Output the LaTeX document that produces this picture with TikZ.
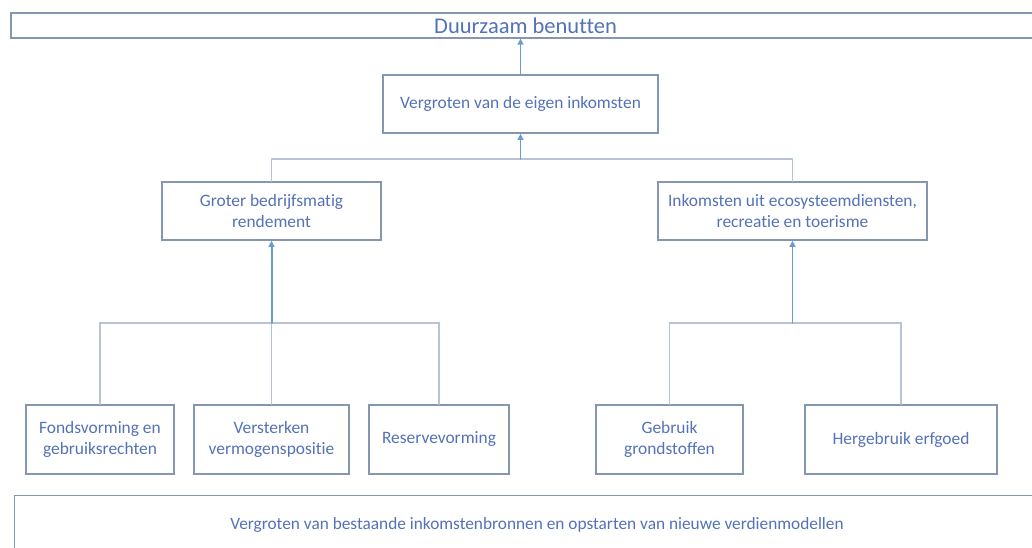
\documentclass[tikz,border=0pt]{standalone}
\usepackage{fontspec}
\setmainfont[Ligatures = NoCommon]{Carlito}
\usetikzlibrary{arrows.meta}

\definecolor{labelblue}{RGB}{84,114,184}
\definecolor{frameblue}{RGB}{132,150,176}
\definecolor{linkgray}{RGB}{184,196,214}
\definecolor{arrowblue}{RGB}{106,156,212}

\begin{document}
\begin{tikzpicture}[%
        x = 1pt,
        y = -1pt,
        line cap = round,
        > = {Triangle[width = 6pt, length = 6pt]},
        box/.style = {
            draw = frameblue,
            line width = 1.6pt,
            fill = white,
            text = labelblue,
            align = center,
            inner sep = 0pt,
            font = \fontsize{17.4}{21.5}\selectfont
        },
        widebox/.style = {
            box,
            line width = 1.2pt,
            minimum width = 1029pt
        },
        link/.style = {
            draw = linkgray,
            line width = 1.4pt
        },
        uparrow/.style = {
            draw = arrowblue,
            line width = 1.4pt,
            ->
        }
    ]

        \useasboundingbox (0, 0) rectangle (1032, 548);

        % Top and bottom bands, running off the right edge.
        \node[widebox, minimum height = 25pt, font = \fontsize{22.5}{24}\selectfont]
            (goal) at (525.5, 25.5) {Duurzaam benutten};
        \node[widebox, minimum height = 70pt, anchor = north west]
            (base) at (14, 495) {};
        \node[text = labelblue, font = \fontsize{17.3}{20}\selectfont]
            (basetext) at (537, 525) {Vergroten van bestaande inkomstenbronnen en opstarten van nieuwe verdienmodellen};

        % Middle levels.
        \node[box, minimum width = 275pt, minimum height = 58pt]
            (eigen) at (520.5, 104) {Vergroten van de eigen inkomsten};
        \node[box, minimum width = 219pt, minimum height = 58pt]
            (rendement) at (271.5, 211) {Groter bedrijfsmatig\\rendement};
        \node[box, minimum width = 269pt, minimum height = 58pt]
            (ecosysteem) at (792.5, 211) {Inkomsten uit ecosysteemdiensten,\\recreatie en toerisme};

        % Bottom row of measures.
        \node[box, minimum width = 148pt, minimum height = 69pt]
            (fonds) at (100, 439.5) {Fondsvorming en\\gebruiksrechten};
        \node[box, minimum width = 155pt, minimum height = 69pt]
            (vermogen) at (271.5, 439.5) {Versterken\\vermogenspositie};
        \node[box, minimum width = 140pt, minimum height = 69pt]
            (reserve) at (439, 439.5) {Reservevorming};
        \node[box, minimum width = 147pt, minimum height = 69pt]
            (grondstof) at (669.5, 439.5) {Gebruik\\grondstoffen};
        \node[box, minimum width = 192pt, minimum height = 69pt]
            (erfgoed) at (901, 439.5) {Hergebruik erfgoed};

        % Junctions where the branches meet.
        \coordinate (jtop) at (520.5, 159);
        \coordinate (jleft) at (271.5, 323);
        \coordinate (jright) at (792.5, 323);

        % Branches.
        \draw[link] (rendement.north) |- (jtop) -| (ecosysteem.north);
        \draw[link] (fonds.north) |- (jleft) -| (reserve.north);
        \draw[link] (jleft) -- (vermogen.north);
        \draw[link] (grondstof.north) |- (jright) -| (erfgoed.north);

        % Arrows up to the next level.
        \draw[uparrow] (eigen.north) -- (goal.south -| eigen.north);
        \draw[uparrow] (jtop) -- (eigen.south);
        \draw[uparrow, line width = 2pt] (jleft) -- (rendement.south);
        \draw[uparrow] (jright) -- (ecosysteem.south);
    \end{tikzpicture}
\end{document}
